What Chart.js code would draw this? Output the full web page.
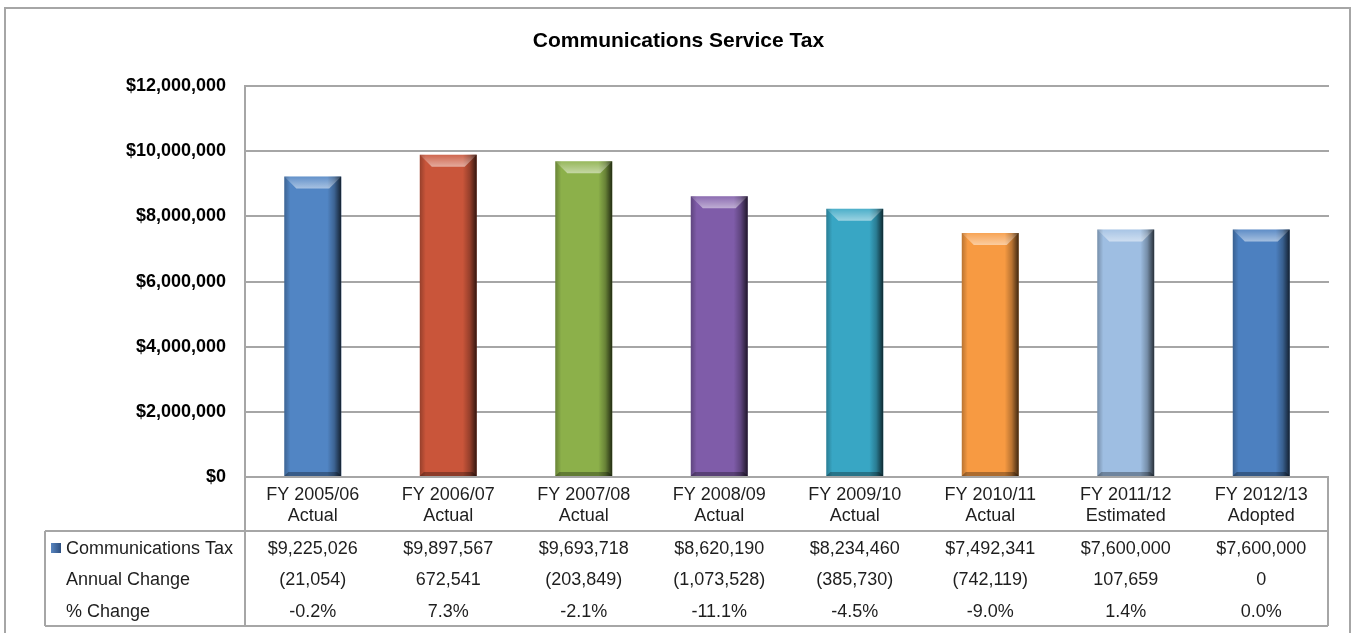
<!DOCTYPE html>
<html>
<head>
<meta charset="utf-8">
<title>Communications Service Tax</title>
<script src="https://cdn.jsdelivr.net/npm/chart.js@4"></script>
<style>
    html, body { margin: 0; padding: 0; background: #fff; }
    #wrap { width: 1353px; height: 633px; }
</style>
</head>
<body>
<div id="wrap"><canvas id="cstChart" width="1353" height="633"></canvas></div>
<script>
const categories = [
    ['FY 2005/06', 'Actual'],
    ['FY 2006/07', 'Actual'],
    ['FY 2007/08', 'Actual'],
    ['FY 2008/09', 'Actual'],
    ['FY 2009/10', 'Actual'],
    ['FY 2010/11', 'Actual'],
    ['FY 2011/12', 'Estimated'],
    ['FY 2012/13', 'Adopted']
];
const taxValues = [9225026, 9897567, 9693718, 8620190, 8234460, 7492341, 7600000, 7600000];
const annualChange = [-21054, 672541, -203849, -1073528, -385730, -742119, 107659, 0];
const pctChange = [-0.2, 7.3, -2.1, -11.1, -4.5, -9.0, 1.4, 0.0];
const barColors = ['#5185c4', '#c9553a', '#8cb04a', '#7f5ca9', '#38a6c4', '#f79a42', '#9ebee2', '#4c80c0'];

const FONT = '"Liberation Sans", Arial, sans-serif';
const LINE = '#a6a6a6';

function money(v) { return '$' + v.toLocaleString('en-US'); }
function change(v) { return v < 0 ? '(' + Math.abs(v).toLocaleString('en-US') + ')' : v.toLocaleString('en-US'); }
function pct(v) { return v.toFixed(1) + '%'; }

// white page + outer frame
const frame = {
    id: 'frame',
    beforeDraw(chart) {
        const ctx = chart.ctx;
        ctx.save();
        ctx.fillStyle = '#fff';
        ctx.fillRect(0, 0, chart.width, chart.height);
        ctx.strokeStyle = LINE;
        ctx.lineWidth = 2;
        ctx.strokeRect(5, 8, chart.width - 8, chart.height + 20);
        ctx.restore();
    }
};

// bevelled look on top of the flat bars
const bevel = {
    id: 'bevel',
    afterDatasetsDraw(chart) {
        const ctx = chart.ctx;
        chart.getDatasetMeta(0).data.forEach((bar) => {
            const p = bar.getProps(['x', 'y', 'base', 'width'], true);
            const l = p.x - p.width / 2, r = p.x + p.width / 2, t = p.y, b = p.base;
            const bv = 12;
            ctx.save();
            // right shadow
            let g = ctx.createLinearGradient(r - 14, 0, r, 0);
            g.addColorStop(0, 'rgba(0,0,0,0)');
            g.addColorStop(0.5, 'rgba(0,0,0,0.25)');
            g.addColorStop(1, 'rgba(0,0,0,0.75)');
            ctx.fillStyle = g;
            ctx.fillRect(r - 14, t, 14, b - t);
            // left edge
            g = ctx.createLinearGradient(l, 0, l + 6, 0);
            g.addColorStop(0, 'rgba(0,0,0,0.25)');
            g.addColorStop(1, 'rgba(0,0,0,0)');
            ctx.fillStyle = g;
            ctx.fillRect(l, t, 6, b - t);
            // top chamfer
            ctx.beginPath();
            ctx.moveTo(l, t);
            ctx.lineTo(r, t);
            ctx.lineTo(r - bv, t + bv);
            ctx.lineTo(l + bv, t + bv);
            ctx.closePath();
            g = ctx.createLinearGradient(0, t, 0, t + bv);
            g.addColorStop(0, 'rgba(255,255,255,0.1)');
            g.addColorStop(1, 'rgba(255,255,255,0.5)');
            ctx.fillStyle = g;
            ctx.fill();
            // bottom chamfer
            ctx.beginPath();
            ctx.moveTo(l, b);
            ctx.lineTo(r, b);
            ctx.lineTo(r - 4, b - 4);
            ctx.lineTo(l + 4, b - 4);
            ctx.closePath();
            ctx.fillStyle = 'rgba(0,0,0,0.3)';
            ctx.fill();
            ctx.restore();
        });
    }
};

// data table under the category labels
const dataTable = {
    id: 'dataTable',
    afterDraw(chart) {
        const ctx = chart.ctx;
        const x = chart.scales.x;
        const area = chart.chartArea;
        const top = x.bottom, bottom = 626, left = 45, right = 1328;
        ctx.save();
        ctx.strokeStyle = LINE;
        ctx.lineWidth = 2;
        ctx.beginPath();
        ctx.moveTo(left, top); ctx.lineTo(right, top);
        ctx.moveTo(left, bottom); ctx.lineTo(right, bottom);
        ctx.moveTo(left, top); ctx.lineTo(left, bottom);
        ctx.moveTo(area.left, area.bottom); ctx.lineTo(area.left, bottom);
        ctx.moveTo(right, area.bottom); ctx.lineTo(right, bottom);
        ctx.stroke();

        const rows = [
            ['Communications Tax', taxValues.map(money)],
            ['Annual Change', annualChange.map(change)],
            ['% Change', pctChange.map(pct)]
        ];
        ctx.font = '18px ' + FONT;
        ctx.fillStyle = '#1e1e1e';
        ctx.textBaseline = 'middle';
        rows.forEach((row, r) => {
            const y = top + 18 + r * 31.5;
            ctx.textAlign = 'left';
            ctx.fillText(row[0], 66, y);
            ctx.textAlign = 'center';
            row[1].forEach((txt, i) => ctx.fillText(txt, x.getPixelForValue(i), y));
        });

        // legend key
        const g = ctx.createLinearGradient(51, 0, 61, 0);
        g.addColorStop(0, '#5a86c0');
        g.addColorStop(1, '#2d4f80');
        ctx.fillStyle = g;
        ctx.fillRect(51, top + 12, 10, 10);
        ctx.restore();
    }
};

new Chart(document.getElementById('cstChart'), {
    type: 'bar',
    data: {
        labels: categories,
        datasets: [{
            label: 'Communications Tax',
            data: taxValues,
            backgroundColor: barColors,
            borderWidth: 0,
            categoryPercentage: 1,
            barPercentage: 0.42
        }]
    },
    options: {
        responsive: false,
        animation: false,
        layout: { padding: { left: 28, right: 24, top: 0, bottom: 102 } },
        plugins: {
            legend: { display: false },
            tooltip: { enabled: false },
            title: {
                display: true,
                text: 'Communications Service Tax',
                color: '#000',
                font: { family: FONT, size: 21, weight: 'bold' },
                padding: { top: 29, bottom: 32 }
            }
        },
        scales: {
            x: {
                grid: { display: false, drawTicks: false },
                border: { display: false },
                ticks: {
                    color: '#1e1e1e',
                    padding: 7,
                    maxRotation: 0,
                    font: { family: FONT, size: 18 }
                },
                afterFit(scale) { scale.height = 54; }
            },
            y: {
                min: 0,
                max: 12000000,
                grid: { color: LINE, lineWidth: 2, drawTicks: false },
                border: { display: true, color: LINE, width: 2 },
                ticks: {
                    stepSize: 2000000,
                    color: '#000',
                    padding: 19,
                    font: { family: FONT, size: 18, weight: 'bold' },
                    callback: (v) => money(v)
                },
                afterFit(scale) { scale.width = 217; }
            }
        }
    },
    plugins: [frame, bevel, dataTable]
});
</script>
</body>
</html>
